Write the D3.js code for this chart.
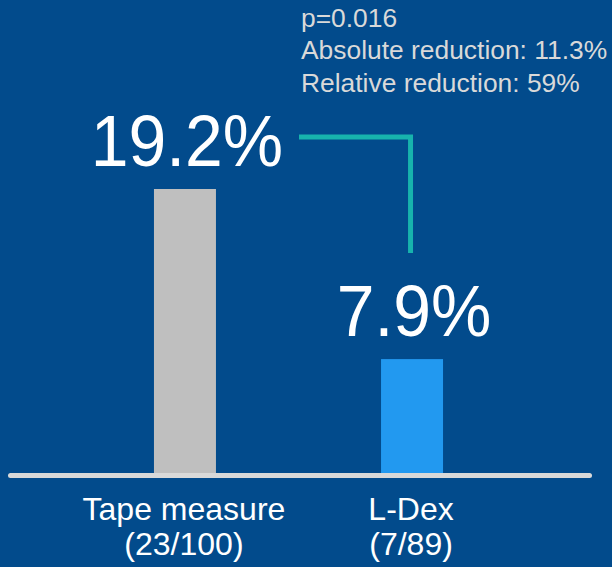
<!DOCTYPE html>
<html>
<head>
<meta charset="utf-8">
<script src="https://cdn.jsdelivr.net/npm/d3@7"></script>
<style>
  html, body { margin: 0; padding: 0; background: #024b8c; }
  svg { display: block; }
  text { font-family: "Liberation Sans", Arial, sans-serif; }
</style>
</head>
<body>
<svg id="chart" width="612" height="567"></svg>
<script>
// ---- data ----
const categories = ["Tape measure", "L-Dex"];
const subLabels = ["(23/100)", "(7/89)"];
const values = [19.2, 7.9];
const valueLabels = ["19.2%", "7.9%"];
const annotationLines = ["p=0.016", "Absolute reduction: 11.3%", "Relative reduction: 59%"];
const barColors = ["#bfbfbf", "#2299f0"];

const W = 612, H = 567;
const svg = d3.select("#chart");
svg.append("rect").attr("width", W).attr("height", H).attr("fill", "#024b8c");

const x = d3.scaleBand()
  .domain(categories)
  .range([7.5, 589.5])
  .paddingInner(0.727)
  .paddingOuter(0.645);

const y = d3.scaleLinear().domain([0, 19.2]).range([478, 189]);

// bars
svg.selectAll("rect.bar")
  .data(categories)
  .join("rect")
  .attr("class", "bar")
  .attr("x", d => x(d))
  .attr("width", x.bandwidth())
  .attr("y", (d, i) => y(values[i]))
  .attr("height", (d, i) => y(0) - y(values[i]))
  .attr("fill", (d, i) => barColors[i]);

// baseline
svg.append("line")
  .attr("x1", 10.5).attr("x2", 589.5)
  .attr("y1", y(0) - 2.5).attr("y2", y(0) - 2.5)
  .attr("stroke", "#d9d9d9")
  .attr("stroke-width", 5)
  .attr("stroke-linecap", "round");

// value labels
const cx = d => x(d) + x.bandwidth() / 2;
svg.selectAll("text.val")
  .data(categories)
  .join("text")
  .attr("class", "val")
  .attr("transform", (d, i) => `translate(${cx(d) + 2},${y(values[i]) - 23}) scale(0.93,1)`)
  .attr("text-anchor", "middle")
  .attr("font-size", 73)
  .attr("fill", "#ffffff")
  .text((d, i) => valueLabels[i]);

// category labels
const cat = svg.selectAll("g.cat")
  .data(categories)
  .join("g")
  .attr("class", "cat")
  .attr("transform", d => `translate(${cx(d) - 1},${y(0)})`);
cat.append("text")
  .attr("y", 42)
  .attr("text-anchor", "middle")
  .attr("font-size", 32)
  .attr("fill", "#ffffff")
  .text(d => d);
cat.append("text")
  .attr("y", 77)
  .attr("text-anchor", "middle")
  .attr("font-size", 32)
  .attr("fill", "#ffffff")
  .text((d, i) => subLabels[i]);

// bracket
const bx0 = 299;
const bx1 = cx(categories[1]) - 1.5;
const by0 = y(values[0]) - 52;
const by1 = y(values[1]) - 106;
svg.append("path")
  .attr("d", `M${bx0},${by0} H${bx1} V${by1}`)
  .attr("fill", "none")
  .attr("stroke", "#17b3ad")
  .attr("stroke-width", 5);

// annotation
svg.append("g")
  .selectAll("text")
  .data(annotationLines)
  .join("text")
  .attr("x", 301)
  .attr("y", (d, i) => 26.5 + i * 32.5)
  .attr("font-size", 26.4)
  .attr("fill", "#d9d9d9")
  .text(d => d);
</script>
</body>
</html>
